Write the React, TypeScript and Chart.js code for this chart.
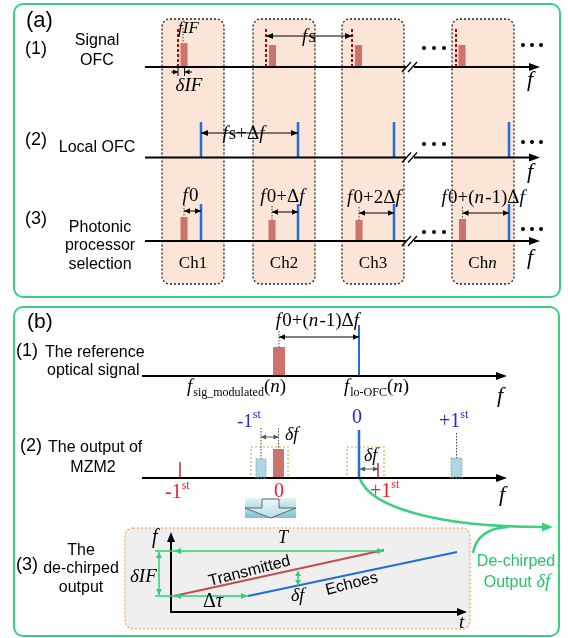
import { useEffect, useRef } from 'react';
import { Chart, registerables } from 'chart.js';

Chart.register(...registerables);

const W = 568;
const H = 638;

// ---- Panel (a): channel windows and comb lines (positions on the drawing frequency axis)
const channelNames = ['Ch1', 'Ch2', 'Ch3', 'Chn'];
const channelLeft = [162, 253, 342, 452];
const channelSpan = 62;
const signalCarrier = [178, 266, 352, 456];
const signalSideband = [184, 272.5, 358.5, 462];
const signalSidebandTop = [43, 45, 45, 45];
const localComb = [201, 298, 394, 509];
const selectedSideband = [184, 272, 359, 462.5];
const selectedSidebandTop = [217, 220, 220, 219];
const channelOffsetLabels = ['f0', 'f0+Δf', 'f0+2Δf', 'f0+(n-1)Δf'];
const channelArrowLevel = [211, 212, 213, 213];
const rowBase = [67, 157.5, 241];
const rowTop = [29, 122, 204];

// ---- Panel (b1): reference optical signal
const refSideband = 279;
const refSidebandTop = 347;
const refLocal = 359;
const refLocalTop = 325;

// ---- Panel (b2): MZM2 output
const mzmThinF = [180, 378];
const mzmThinTop = [462, 463];
const mzmShiftedF = [261, 456.5];
const mzmShiftedW = [10, 11];
const mzmShiftedTop = [459, 458];
const mzmSignalF = 278.5;
const mzmSignalTop = 449;
const mzmLocalF = 359;
const mzmLocalTop = 430;

// ---- Panel (b3): de-chirped time–frequency lines
const transmittedT = [174, 384];
const transmittedF = [596, 550];
const echoT = [248, 457];
const echoF = [596, 552];

const GREEN = '#3ccf7f';
const GREEN_TXT = '#26c468';
const PEACH = '#fbe5d6';
const BAR = '#cd736d';
const DARKRED = '#c00000';
const BLUE = '#1f6fd6';
const LBLUE = '#acd8e6';
const ORANGE = '#f0a050';
const LRED = '#ee1c24';
const LBLU = '#2424e6';

const SANS = (s: number) => `${s}px "Liberation Sans", Arial, sans-serif`;
const SERIF = (s: number) => `${s}px "Liberation Serif", "Times New Roman", serif`;
const ISERIF = (s: number) => `italic ${s}px "Liberation Serif", "Times New Roman", serif`;

type Seg = { t: string; font: string; dy?: number; color?: string; kern?: number };

function drawSegs(ctx: CanvasRenderingContext2D, segs: Seg[], x: number, y: number, align = 'left', color = '#000') {
  let total = 0;
  for (const s of segs) {
    ctx.font = s.font;
    total += ctx.measureText(s.t).width + (s.kern || 0);
  }
  let cx = align === 'center' ? x - total / 2 : align === 'right' ? x - total : x;
  ctx.textAlign = 'left';
  ctx.textBaseline = 'alphabetic';
  for (const s of segs) {
    ctx.font = s.font;
    ctx.fillStyle = s.color || color;
    ctx.fillText(s.t, cx, y + (s.dy || 0));
    cx += ctx.measureText(s.t).width + (s.kern || 0);
  }
}

const ITALIC = /[fnδτIFTt]/;
function mathSegs(str: string, size: number, color?: string): Seg[] {
  const segs: Seg[] = [];
  for (const ch of str) {
    const it = ITALIC.test(ch);
    const font = it ? ISERIF(size) : SERIF(size);
    const last = segs[segs.length - 1];
    if (last && last.font === font) last.t += ch;
    else segs.push({ t: ch, font, color, kern: it ? size * 0.06 : 0 });
  }
  return segs;
}

function rrect(ctx: CanvasRenderingContext2D, x: number, y: number, w: number, h: number, r: number) {
  ctx.beginPath();
  ctx.moveTo(x + r, y);
  ctx.lineTo(x + w - r, y);
  ctx.arcTo(x + w, y, x + w, y + r, r);
  ctx.lineTo(x + w, y + h - r);
  ctx.arcTo(x + w, y + h, x + w - r, y + h, r);
  ctx.lineTo(x + r, y + h);
  ctx.arcTo(x, y + h, x, y + h - r, r);
  ctx.lineTo(x, y + r);
  ctx.arcTo(x, y, x + r, y, r);
  ctx.closePath();
}

function head(ctx: CanvasRenderingContext2D, x: number, y: number, ang: number, len = 7, half = 3) {
  const c = Math.cos(ang);
  const s = Math.sin(ang);
  ctx.beginPath();
  ctx.moveTo(x, y);
  ctx.lineTo(x - len * c + half * s, y - len * s - half * c);
  ctx.lineTo(x - len * c - half * s, y - len * s + half * c);
  ctx.closePath();
  ctx.fill();
}

const seg = (x1: number, y1: number, x2: number, y2: number, color: string, width: number, dash: number[] = []) => ({
  data: [{ x: x1, y: y1 }, { x: x2, y: y2 }],
  showLine: true,
  borderColor: color,
  backgroundColor: color,
  borderWidth: width,
  borderDash: dash,
  borderCapStyle: 'butt' as const,
  pointRadius: 0,
  pointHoverRadius: 0,
  fill: false,
});

function buildDatasets() {
  const ds: any[] = [];
  signalCarrier.forEach((f) => ds.push(seg(f, rowBase[0], f, rowTop[0], DARKRED, 2, [3, 2])));
  signalSideband.forEach((f, i) => ds.push(seg(f, rowBase[0], f, signalSidebandTop[i], BAR, 7)));
  localComb.forEach((f) => ds.push(seg(f, rowBase[1], f, rowTop[1], BLUE, 2.5)));
  localComb.forEach((f) => ds.push(seg(f, rowBase[2], f, rowTop[2], BLUE, 2.5)));
  selectedSideband.forEach((f, i) => ds.push(seg(f, rowBase[2], f, selectedSidebandTop[i], BAR, 7)));
  ds.push(seg(refSideband, 376, refSideband, refSidebandTop, BAR, 12));
  ds.push(seg(refLocal, 376, refLocal, refLocalTop, BLUE, 2));
  mzmShiftedF.forEach((f, i) => ds.push(seg(f, 478, f, mzmShiftedTop[i], LBLUE, mzmShiftedW[i])));
  ds.push(seg(mzmSignalF, 478, mzmSignalF, mzmSignalTop, BAR, 11));
  ds.push(seg(mzmLocalF, 478, mzmLocalF, mzmLocalTop, BLUE, 2.5));
  mzmThinF.forEach((f, i) => ds.push(seg(f, 478, f, mzmThinTop[i], '#b0302a', 1.5)));
  ds.push(seg(transmittedT[0], transmittedF[0], transmittedT[1], transmittedF[1], '#c0504d', 2.2));
  ds.push(seg(echoT[0], echoF[0], echoT[1], echoF[1], BLUE, 2.2));
  return ds;
}

const diagramPlugin = {
  id: 'diagram',
  beforeDatasetsDraw(chart: any) {
    const ctx: CanvasRenderingContext2D = chart.ctx;
    const X = (v: number) => chart.scales.x.getPixelForValue(v);
    const Y = (v: number) => chart.scales.y.getPixelForValue(v);
    ctx.save();
    ctx.fillStyle = '#fff';
    ctx.fillRect(0, 0, W, H);

    // panel frames
    ctx.lineWidth = 2;
    ctx.strokeStyle = GREEN;
    rrect(ctx, X(14), Y(4), X(560) - X(14), Y(297) - Y(4), 9);
    ctx.stroke();
    rrect(ctx, X(14), Y(307), X(559) - X(14), Y(636) - Y(307), 9);
    ctx.stroke();

    // channel windows
    channelLeft.forEach((l) => {
      rrect(ctx, X(l), Y(19), X(l + channelSpan) - X(l), Y(284) - Y(19), 8);
      ctx.fillStyle = PEACH;
      ctx.fill();
      ctx.setLineDash([2, 2]);
      ctx.lineWidth = 1.3;
      ctx.strokeStyle = '#222';
      ctx.stroke();
      ctx.setLineDash([]);
    });

    // MZM2 dashed frames
    ctx.strokeStyle = ORANGE;
    ctx.lineWidth = 1.2;
    ctx.setLineDash([2, 2]);
    ctx.strokeRect(X(251), Y(447), X(288) - X(251), Y(478) - Y(447));
    ctx.strokeRect(X(347), Y(447), X(384) - X(347), Y(478) - Y(447));

    // de-chirp box
    rrect(ctx, X(125), Y(528), X(470) - X(125), Y(629) - Y(528), 8);
    ctx.fillStyle = '#efefef';
    ctx.fill();
    ctx.stroke();
    ctx.setLineDash([]);

    // shift arrow block
    const g = ctx.createLinearGradient(0, Y(498), 0, Y(518));
    g.addColorStop(0, '#e6f4f8');
    g.addColorStop(1, '#78c2d5');
    ctx.fillStyle = g;
    ctx.fillRect(X(245), Y(498), X(296) - X(245), Y(518) - Y(498));
    ctx.beginPath();
    ctx.moveTo(X(245), Y(508));
    ctx.lineTo(X(262), Y(508));
    ctx.lineTo(X(262), Y(499));
    ctx.lineTo(X(279), Y(499));
    ctx.lineTo(X(279), Y(508));
    ctx.lineTo(X(296), Y(508));
    ctx.lineTo(X(270.5), Y(518));
    ctx.closePath();
    ctx.fillStyle = 'rgba(255,255,255,0.45)';
    ctx.fill();
    ctx.strokeStyle = '#666';
    ctx.lineWidth = 1;
    ctx.stroke();
    ctx.restore();
  },
  afterDatasetsDraw(chart: any) {
    const ctx: CanvasRenderingContext2D = chart.ctx;
    const X = (v: number) => chart.scales.x.getPixelForValue(v);
    const Y = (v: number) => chart.scales.y.getPixelForValue(v);
    ctx.save();

    const dbl = (x1: number, y1: number, x2: number, y2: number, color = '#000', lw = 1, len = 7, half = 3) => {
      ctx.strokeStyle = color;
      ctx.fillStyle = color;
      ctx.lineWidth = lw;
      ctx.beginPath();
      ctx.moveTo(X(x1), Y(y1));
      ctx.lineTo(X(x2), Y(y2));
      ctx.stroke();
      const a = Math.atan2(Y(y2) - Y(y1), X(x2) - X(x1));
      head(ctx, X(x2), Y(y2), a, len, half);
      head(ctx, X(x1), Y(y1), a + Math.PI, len, half);
    };
    const dotted = (x: number, y1: number, y2: number, color = '#444') => {
      ctx.strokeStyle = color;
      ctx.lineWidth = 1;
      ctx.setLineDash([1.5, 1.5]);
      ctx.beginPath();
      ctx.moveTo(X(x), Y(y1));
      ctx.lineTo(X(x), Y(y2));
      ctx.stroke();
      ctx.setLineDash([]);
    };
    const axis = (x1: number, x2: number, y: number, brk: boolean) => {
      ctx.strokeStyle = '#000';
      ctx.fillStyle = '#000';
      ctx.lineWidth = 2;
      ctx.beginPath();
      if (brk) {
        ctx.moveTo(X(x1), Y(y));
        ctx.lineTo(X(406), Y(y));
        ctx.moveTo(X(414), Y(y));
        ctx.lineTo(X(x2) - 8, Y(y));
      } else {
        ctx.moveTo(X(x1), Y(y));
        ctx.lineTo(X(x2) - 8, Y(y));
      }
      ctx.stroke();
      head(ctx, X(x2), Y(y), 0, 11, 4);
      if (brk) {
        ctx.lineWidth = 1.3;
        ctx.beginPath();
        ctx.moveTo(X(402), Y(y + 5));
        ctx.lineTo(X(411), Y(y - 5));
        ctx.moveTo(X(408), Y(y + 5));
        ctx.lineTo(X(417), Y(y - 5));
        ctx.stroke();
      }
    };
    const text = (s: string, x: number, y: number, font: string, align = 'left', color = '#000') => {
      ctx.font = font;
      ctx.fillStyle = color;
      ctx.textAlign = align as CanvasTextAlign;
      ctx.textBaseline = 'alphabetic';
      ctx.fillText(s, X(x), Y(y));
    };
    const dots = (xs: number[], y: number) => {
      ctx.fillStyle = '#000';
      xs.forEach((x) => {
        ctx.beginPath();
        ctx.arc(X(x), Y(y), 2, 0, Math.PI * 2);
        ctx.fill();
      });
    };

    // ===== Panel (a) =====
    rowBase.forEach((y) => axis(145, 540, y, true));
    [86, 178, 264].forEach((y) => drawSegs(ctx, mathSegs('f', 22), X(527), Y(y)));

    // signal OFC annotations
    dotted(183, 28, 43);
    drawSegs(ctx, mathSegs('fIF', 17), X(178), Y(33));
    ctx.strokeStyle = '#000';
    ctx.lineWidth = 1;
    ctx.beginPath();
    ctx.moveTo(X(178), Y(68));
    ctx.lineTo(X(178), Y(76));
    ctx.moveTo(X(184.5), Y(68));
    ctx.lineTo(X(184.5), Y(76));
    ctx.moveTo(X(171), Y(72));
    ctx.lineTo(X(178), Y(72));
    ctx.moveTo(X(184.5), Y(72));
    ctx.lineTo(X(192), Y(72));
    ctx.stroke();
    ctx.fillStyle = '#000';
    head(ctx, X(178), Y(72), 0, 5, 2.5);
    head(ctx, X(184.5), Y(72), Math.PI, 5, 2.5);
    drawSegs(ctx, mathSegs('δIF', 19), X(189.5), Y(91), 'center');

    dbl(signalCarrier[1], 36, signalCarrier[2], 36);
    drawSegs(ctx, mathSegs('fs', 19), X(309), Y(42), 'center');

    // local OFC annotation
    dbl(localComb[0], 133, localComb[1], 133);
    drawSegs(ctx, mathSegs('fs+Δf', 19), X(244), Y(139), 'center');

    // channel selection annotations
    selectedSideband.forEach((f, i) => {
      const ay = channelArrowLevel[i];
      dotted(f, ay - 6, selectedSidebandTop[i]);
      dbl(f, ay, localComb[i], ay, '#000', 1, 6, 2.8);
      drawSegs(ctx, mathSegs(channelOffsetLabels[i], 19), X((f + localComb[i]) / 2 - 2), Y(ay - 10), 'center');
    });
    channelNames.forEach((n, i) => {
      drawSegs(ctx, mathSegs(n, 17), X(channelLeft[i] + channelSpan / 2), Y(268), 'center');
    });

    // ellipses
    [48, 144, 232].forEach((y) => dots([424, 434, 444], y));
    [45, 142, 229].forEach((y) => dots([523, 532, 541], y));

    // row captions
    text('(a)', 26, 27, SANS(22));
    text('(1)', 25, 54, SANS(18));
    text('Signal', 97, 45, SANS(16), 'center');
    text('OFC', 97, 65, SANS(16), 'center');
    text('(2)', 25, 145, SANS(18));
    text('Local OFC', 97, 152, SANS(16), 'center');
    text('(3)', 25, 224, SANS(18));
    text('Photonic', 100, 232, SANS(16), 'center');
    text('processor', 100, 250, SANS(16), 'center');
    text('selection', 100, 269, SANS(16), 'center');

    // ===== Panel (b1) =====
    axis(142, 507, 376, false);
    dotted(refSideband, 331, refSidebandTop);
    dbl(refSideband, 337, refLocal, 337, '#000', 1, 6, 2.8);
    drawSegs(ctx, mathSegs('f0+(n-1)Δf', 19), X(318), Y(326), 'center');
    drawSegs(ctx, [
      { t: 'f', font: ISERIF(19), kern: 1 },
      { t: 'sig_modulated', font: SERIF(12), dy: 4 },
      { t: '(', font: SERIF(19) },
      { t: 'n', font: ISERIF(19) },
      { t: ')', font: SERIF(19) },
    ], X(187), Y(392));
    drawSegs(ctx, [
      { t: 'f', font: ISERIF(19), kern: 1 },
      { t: 'lo-OFC', font: SERIF(12), dy: 4 },
      { t: '(', font: SERIF(19) },
      { t: 'n', font: ISERIF(19) },
      { t: ')', font: SERIF(19) },
    ], X(344), Y(392));
    drawSegs(ctx, mathSegs('f', 22), X(497), Y(402));

    text('(b)', 27, 328, SANS(21));
    text('(1)', 16, 356, SANS(18));
    text('The reference', 45, 357, SANS(16));
    text('optical signal', 47, 375, SANS(16));

    // ===== Panel (b2) =====
    axis(142, 507, 478, false);
    ctx.strokeStyle = '#9a9a9a';
    ctx.lineWidth = 1;
    ctx.setLineDash([1.5, 1.5]);
    mzmShiftedF.forEach((f, i) => {
      const w = mzmShiftedW[i];
      ctx.strokeRect(X(f - w / 2), Y(mzmShiftedTop[i]), X(f + w / 2) - X(f - w / 2), Y(478) - Y(mzmShiftedTop[i]));
    });
    ctx.setLineDash([]);
    dotted(mzmShiftedF[0], 428, mzmShiftedTop[0]);
    dotted(mzmSignalF, 428, mzmSignalTop);
    dbl(mzmShiftedF[0], 437, mzmSignalF, 437, '#555', 1, 5, 2.5);
    drawSegs(ctx, mathSegs('δf', 18), X(285), Y(440));
    dbl(mzmLocalF + 1, 469, mzmThinF[1], 469, '#555', 1, 5, 2.5);
    drawSegs(ctx, mathSegs('δf', 18), X(364), Y(461));
    dotted(mzmShiftedF[1], 433, mzmShiftedTop[1]);
    drawSegs(ctx, mathSegs('f', 22), X(499), Y(501));

    const order = (sign: string, x: number, y: number, color: string, size = 20) =>
      drawSegs(ctx, [
        { t: sign + '1', font: SERIF(size), color },
        { t: 'st', font: SERIF(12), dy: -9, color },
      ], X(x), Y(y));
    order('-', 165, 498, LRED);
    text('0', 279, 497, SERIF(20), 'center', LRED);
    order('+', 370, 497, LRED);
    order('-', 237, 427, LBLU, 19);
    text('0', 357, 423, SERIF(20), 'center', LBLU);
    order('+', 439, 427, LBLU);

    text('(2)', 20, 451, SANS(18));
    text('The output of', 48, 452, SANS(16));
    text('MZM2', 93, 472, SANS(16), 'center');

    // green routing curves
    ctx.strokeStyle = GREEN;
    ctx.fillStyle = GREEN;
    ctx.lineWidth = 2.5;
    ctx.beginPath();
    ctx.moveTo(X(360), Y(479));
    ctx.bezierCurveTo(X(370), Y(505), X(430), Y(527), X(543), Y(527));
    ctx.stroke();
    head(ctx, X(553), Y(527), 0, 11, 4.5);
    ctx.beginPath();
    ctx.moveTo(X(473), Y(553));
    ctx.bezierCurveTo(X(476), Y(536), X(488), Y(528), X(508), Y(527));
    ctx.stroke();
    text('De-chirped', 516, 566, SANS(16), 'center', GREEN_TXT);
    drawSegs(ctx, [
      { t: 'Output ', font: SANS(16), color: GREEN_TXT },
      { t: 'δf', font: ISERIF(19), color: GREEN_TXT },
    ], X(517), Y(587), 'center');

    // ===== Panel (b3) =====
    ctx.strokeStyle = '#000';
    ctx.fillStyle = '#000';
    ctx.lineWidth = 2;
    ctx.beginPath();
    ctx.moveTo(X(171), Y(612));
    ctx.lineTo(X(171), Y(541));
    ctx.moveTo(X(170), Y(612));
    ctx.lineTo(X(458), Y(612));
    ctx.stroke();
    head(ctx, X(171), Y(532), -Math.PI / 2, 10, 4);
    head(ctx, X(467), Y(612), 0, 10, 4);

    const gl = '#2fd07a';
    ctx.strokeStyle = gl;
    ctx.fillStyle = gl;
    ctx.lineWidth = 1.5;
    ctx.beginPath();
    ctx.moveTo(X(155), Y(551));
    ctx.lineTo(X(384), Y(551));
    ctx.moveTo(X(155), Y(596));
    ctx.lineTo(X(248), Y(596));
    ctx.stroke();
    head(ctx, X(384), Y(551), 0, 7, 3);
    head(ctx, X(174), Y(551), Math.PI, 7, 3);
    head(ctx, X(248), Y(596), 0, 7, 3);
    head(ctx, X(174), Y(596), Math.PI, 7, 3);
    dbl(159, 552, 159, 595, gl, 1.5, 6, 3);
    dbl(298, 571, 298, 585, gl, 1.5, 5, 3);

    drawSegs(ctx, mathSegs('f', 20), X(152), Y(543));
    drawSegs(ctx, mathSegs('T', 18), X(278), Y(543));
    drawSegs(ctx, mathSegs('δIF', 19), X(130), Y(582));
    drawSegs(ctx, mathSegs('Δτ', 20), X(203), Y(607));
    drawSegs(ctx, mathSegs('δf', 18), X(291), Y(601));
    drawSegs(ctx, mathSegs('t', 19), X(459), Y(628));

    const rot = -14.5 * Math.PI / 180;
    ctx.save();
    ctx.translate(X(210), Y(586));
    ctx.rotate(rot);
    ctx.font = SANS(16);
    ctx.fillStyle = '#000';
    ctx.textAlign = 'left';
    ctx.fillText('Transmitted', 0, 0);
    ctx.restore();
    ctx.save();
    ctx.translate(X(327), Y(595));
    ctx.rotate(rot);
    ctx.font = SANS(16);
    ctx.fillStyle = '#000';
    ctx.textAlign = 'left';
    ctx.fillText('Echoes', 0, 0);
    ctx.restore();

    text('(3)', 16, 570, SANS(18));
    text('The', 81, 555, SANS(16), 'center');
    text('de-chirped', 81, 573, SANS(16), 'center');
    text('output', 81, 592, SANS(16), 'center');

    ctx.restore();
  },
};

export default function App() {
  const ref = useRef<HTMLCanvasElement>(null);
  useEffect(() => {
    if (!ref.current) return;
    const chart = new Chart(ref.current, {
      type: 'scatter',
      data: { datasets: buildDatasets() },
      options: {
        animation: false,
        responsive: false,
        devicePixelRatio: 1,
        layout: { padding: 0 },
        events: [],
        plugins: { legend: { display: false }, tooltip: { enabled: false } },
        scales: {
          x: { type: 'linear', min: 0, max: W, display: false },
          y: { type: 'linear', min: 0, max: H, reverse: true, display: false },
        },
      },
      plugins: [diagramPlugin],
    });
    return () => chart.destroy();
  }, []);
  return (
    <div style={{ position: 'absolute', left: 0, top: 0, width: W, height: H, background: '#fff' }}>
      <canvas ref={ref} width={W} height={H} style={{ display: 'block', width: W, height: H }} />
    </div>
  );
}
